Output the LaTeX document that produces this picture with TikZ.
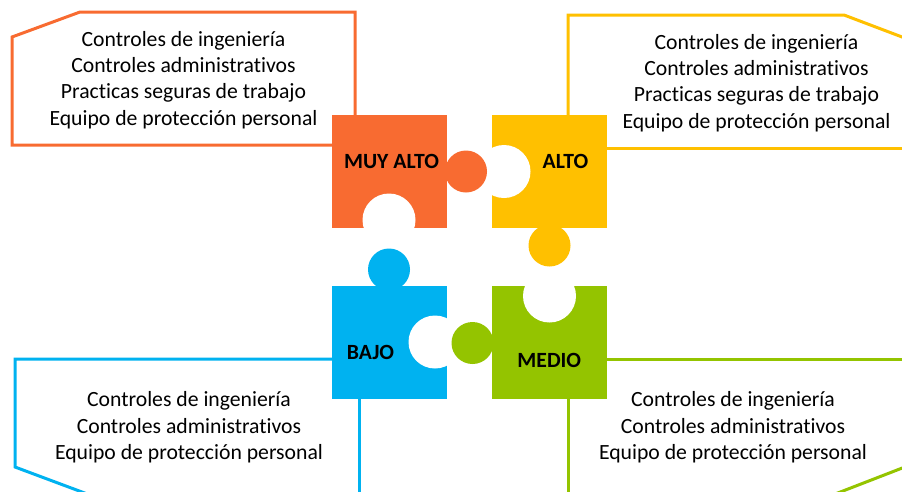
\documentclass[tikz,border=0pt]{standalone}
\usepackage{fontspec}
\setmainfont[Ligatures=NoCommon]{Carlito}
\definecolor{cor}{HTML}{F86B31}
\definecolor{cye}{HTML}{FFC000}
\definecolor{cbl}{HTML}{00B2F0}
\definecolor{cgr}{HTML}{94C400}
\tikzset{
  piece/.style={rectangle, inner sep=0pt, minimum width=115pt, minimum height=113pt},
  knob/.style={circle, inner sep=0pt, minimum size=42pt},
  hole/.style={circle, inner sep=0pt, minimum size=53pt, fill=white},
  outline/.style={line width=3pt},
  list/.style={align=center, font=\fontsize{21.7}{26.3}\selectfont, inner sep=0pt, anchor=base},
  lab/.style={font=\bfseries\fontsize{21.7}{24}\selectfont, inner sep=0pt, anchor=base}
}
\begin{document}
\begin{tikzpicture}[x=1pt,y=-1pt]
\useasboundingbox (0,0) rectangle (902,491);
\begin{scope}
\clip (0,0) rectangle (902,491);
% outlines
\draw[outline, cor] (333,145) -- (12,145) -- (12,37) -- (80,12) -- (355,12) -- (355,116);
\draw[outline, cye] (606,148) -- (910,148);
\draw[outline, cye] (568,116) -- (568,15) -- (844,15) -- (910,40);
\draw[outline, cbl] (333,359) -- (15,359) -- (15,467) -- (90,495);
\draw[outline, cbl] (359,397) -- (359,495);
\draw[outline, cgr] (606,359) -- (910,359);
\draw[outline, cgr] (568,397) -- (568,495);
\draw[outline, cgr] (910,465) -- (830,496);
% pieces
\node[piece, fill=cor] (ma) at (389.5,171.5) {};
\node[piece, fill=cye] (al) at (549.3,171.3) {};
\node[piece, fill=cbl] (ba) at (389.3,342) {};
\node[piece, fill=cgr] (me) at (549.3,342) {};
% holes
\node[hole] (hma) at (389,220) {};
\node[hole] (hal) at (504,171.5) {};
\node[hole] (hba) at (435,342) {};
\node[hole] (hme) at (549.5,296) {};
% knobs
\node[knob, fill=cor] (kma) at (466,171.5) {};
\node[knob, fill=cye] (kal) at (549.5,245.5) {};
\node[knob, fill=cbl] (kba) at (389,269.5) {};
\node[knob, fill=cgr] (kme) at (472.5,343) {};
% labels
\node[lab] (lma) at (391.5,168) {MUY ALTO};
\node[lab] (lal) at (565.5,168) {ALTO};
\node[lab] (lba) at (370.5,359.3) {BAJO};
\node[lab] (lme) at (549.3,367.7) {MEDIO};
% lists (base = baseline of last line)
\node[list] (tma) at (183.5,125) {Controles de ingeniería\\Controles administrativos\\Practicas seguras de trabajo\\Equipo de protección personal};
\node[list] (tal) at (756.5,128) {Controles de ingeniería\\Controles administrativos\\Practicas seguras de trabajo\\Equipo de protección personal};
\node[list] (tba) at (189,459.3) {Controles de ingeniería\\Controles administrativos\\Equipo de protección personal};
\node[list] (tme) at (733,459.3) {Controles de ingeniería\\Controles administrativos\\Equipo de protección personal};
\end{scope}
\end{tikzpicture}
\end{document}
